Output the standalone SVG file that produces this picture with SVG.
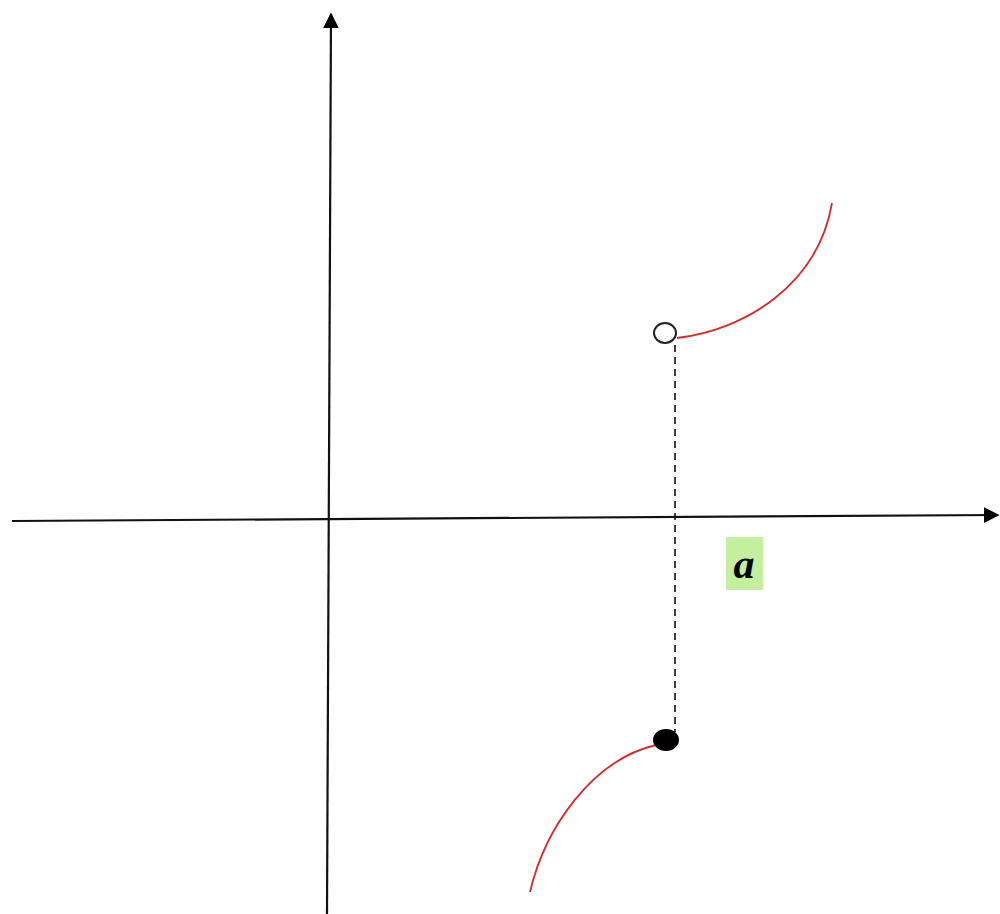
<svg xmlns="http://www.w3.org/2000/svg" width="1000" height="914" viewBox="0 0 1000 914">
<style>
.axis{stroke:#111;stroke-width:2.2;fill:none}
.curve{stroke:#d42a2a;stroke-width:1.8;fill:none}
.dash{stroke:#111;stroke-width:1.6;stroke-dasharray:7,5;fill:none}
</style>
<defs>
<marker id="arr" viewBox="0 0 10 10" refX="9" refY="5" markerWidth="8" markerHeight="8" markerUnits="userSpaceOnUse" orient="auto">
<path d="M0,0 L10,5 L0,10 z" fill="#000"/>
</marker>
<marker id="arrb" viewBox="0 0 10 10" refX="9" refY="5" markerWidth="16" markerHeight="16" markerUnits="userSpaceOnUse" orient="auto">
<path d="M0,0 L10,5 L0,10 z" fill="#000"/>
</marker>
</defs>
<rect width="1000" height="914" fill="#fff"/>
<g id="connectors">
<line class="axis" x1="327" y1="914" x2="331" y2="14" marker-end="url(#arrb)"/>
<line class="axis" x1="12" y1="521" x2="998" y2="515" marker-end="url(#arrb)"/>
<line class="dash" x1="675" y1="345" x2="675" y2="732"/>
</g>
<g id="upper-branch">
<path class="curve" d="M677,338 C745,330 818,285 832,203"/>
<ellipse cx="665" cy="333" rx="11" ry="10" fill="#fff" stroke="#222" stroke-width="2"/>
</g>
<g id="lower-branch">
<path class="curve" d="M656,745 C592,760 545,828 530,892"/>
<ellipse cx="666" cy="740" rx="13" ry="11" fill="#000"/>
</g>
<g id="label-a">
<rect x="726" y="537" width="37" height="53" fill="#c3ef9e"/>
<text x="744" y="578" font-family="Liberation Serif, serif" font-size="42" font-weight="bold" font-style="italic" text-anchor="middle" fill="#000">a</text>
</g>
</svg>
